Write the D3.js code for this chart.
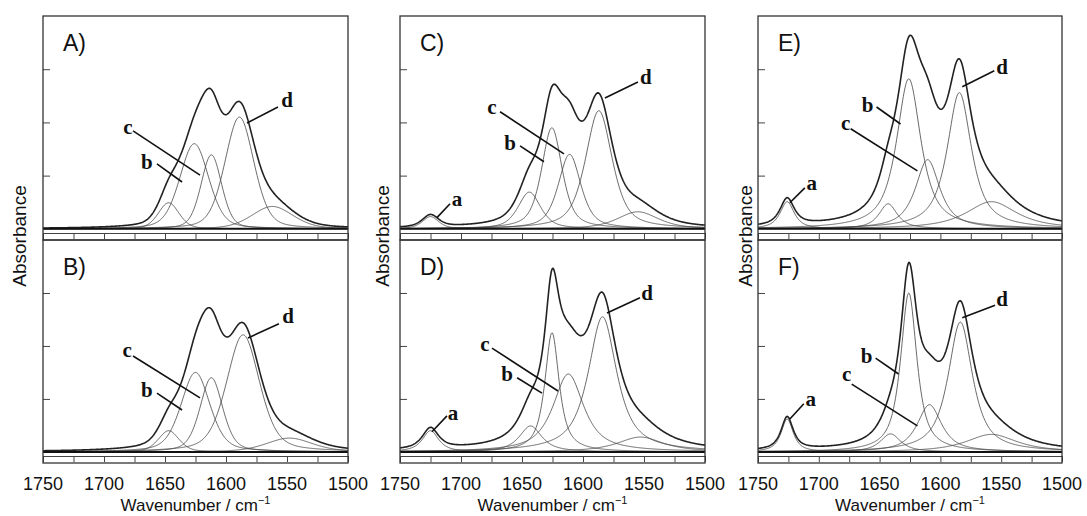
<!DOCTYPE html>
<html>
<head>
<meta charset="utf-8">
<script src="https://cdn.jsdelivr.net/npm/d3@7/dist/d3.min.js"></script>
<style>
  body { margin: 0; background: #fff; }
  svg { display: block; }
</style>
</head>
<body>
<svg id="chart" width="1087" height="516"></svg>
<script>
// panel names, in reading order (columns of two)
const panelNames = ["A", "B", "C", "D", "E", "F"];

// fitted bands per panel, order: a, shoulder, b, c, d, low tail
const bandCenters = [
  [1725, 1647, 1626, 1612, 1589, 1562],
  [1725, 1647, 1625, 1612, 1586, 1548],
  [1725, 1644, 1625.5, 1611, 1587, 1555],
  [1725, 1643, 1625.4, 1612, 1584, 1553],
  [1726, 1643, 1626, 1610.5, 1584.4, 1558],
  [1726, 1641, 1626, 1609, 1583.6, 1558]
];
const bandHeights = [
  [0, 0.49, 1.60, 1.39, 2.10, 0.42],
  [0, 0.40, 1.50, 1.40, 2.21, 0.26],
  [0.23, 0.69, 1.90, 1.40, 2.22, 0.32],
  [0.40, 0.49, 2.25, 1.47, 2.55, 0.28],
  [0.51, 0.47, 2.82, 1.30, 2.56, 0.51],
  [0.62, 0.34, 3.00, 0.89, 2.45, 0.33]
];
const bandWidths = [
  [16, 20, 28, 20, 28, 40],
  [16, 20, 28, 22, 32, 45],
  [16, 22, 20, 22, 26, 40],
  [16, 22, 14, 30, 28, 45],
  [14, 18, 24, 24, 24, 50],
  [12, 20, 16, 24, 24, 50]
];
// lorentzian share of the pseudo-voigt shape
const lorentzShare = [0.3, 0.4, 0.6, 0.85, 0.85, 0.85];

// band labels: letter, text (wn, abs), leader from (wn, abs) to (wn, abs)
const bandLabels = [
  [["b", 1664.8, 1.26, 1656.6, 1.22, 1636, 0.88],
   ["c", 1680.3, 1.92, 1676.2, 1.84, 1621.3, 1.01],
   ["d", 1550, 2.42, 1557.4, 2.29, 1582.8, 1.99]],
  [["b", 1664.8, 1.17, 1656.6, 1.11, 1636, 0.79],
   ["c", 1681.1, 1.92, 1676.2, 1.81, 1621.3, 1.02],
   ["d", 1549.2, 2.57, 1556.6, 2.42, 1582, 2.15]],
  [["a", 1703.3, 0.56, 1709, 0.47, 1719.7, 0.21],
   ["b", 1659.8, 1.62, 1651.6, 1.56, 1632, 1.26],
   ["c", 1674.6, 2.29, 1668, 2.2, 1615.6, 1.41],
   ["d", 1548.4, 2.85, 1555, 2.76, 1582, 2.46]],
  [["a", 1706.6, 0.74, 1711.5, 0.68, 1723.8, 0.38],
   ["b", 1662.3, 1.47, 1654, 1.40, 1633.6, 1.11],
   ["c", 1680.3, 2.04, 1674.6, 1.96, 1620.5, 1.15],
   ["d", 1547.5, 3.0, 1553.3, 2.91, 1580.3, 2.62]],
  [["a", 1705.7, 0.86, 1711.5, 0.77, 1723.8, 0.49],
   ["b", 1659.8, 2.33, 1652.5, 2.29, 1632.8, 1.97],
   ["c", 1677.9, 1.99, 1673.8, 1.88, 1618.9, 1.09],
   ["d", 1549.2, 3.04, 1555.7, 2.97, 1582, 2.67]],
  [["a", 1706.6, 1.0, 1712.3, 0.91, 1723.8, 0.62],
   ["b", 1660.7, 1.81, 1653.3, 1.77, 1634.4, 1.47],
   ["c", 1677, 1.47, 1672.95, 1.28, 1618.9, 0.49],
   ["d", 1549.2, 2.89, 1555, 2.77, 1582, 2.53]]
];

// axis settings
const wnDomain = [1750, 1500];
const absDomain = [-0.21, 4];
const xTicks = d3.range(1500, 1751, 25);
const xLabels = [1750, 1700, 1650, 1600, 1550, 1500];
const yTicks = [1, 2, 3];

// layout
const cols = [
  { x0: 43, x1: 348, ylab: 19 },
  { x0: 400, x1: 705, ylab: 382 },
  { x0: 758, x1: 1062, ylab: 745 }
];
const rows = [{ top: 16, bottom: 240 }, { top: 240, bottom: 463 }];

const svg = d3.select("#chart");
const sans = "'Liberation Sans', Arial, sans-serif";
const serif = "'Liberation Serif', 'Times New Roman', serif";

function voigt(w, c, h, fw, eta) {
  const u = (w - c) / fw;
  const l = 1 / (1 + 4 * u * u);
  const g = Math.exp(-4 * Math.LN2 * u * u);
  return h * (eta * l + (1 - eta) * g);
}

const grid = d3.range(1500, 1750.01, 0.5);

panelNames.forEach((name, p) => {
  const col = cols[Math.floor(p / 2)];
  const row = rows[p % 2];

  const x = d3.scaleLinear().domain(wnDomain).range([col.x0, col.x1]);
  const y = d3.scaleLinear().domain(absDomain).range([row.bottom, row.top]);

  const g = svg.append("g");
  const clipId = "clip" + name;
  g.append("clipPath").attr("id", clipId)
    .append("rect")
    .attr("x", col.x0).attr("y", row.top)
    .attr("width", col.x1 - col.x0).attr("height", row.bottom - row.top);

  const plot = g.append("g").attr("clip-path", "url(#" + clipId + ")");

  const line = d3.line()
    .x(d => x(d[0]))
    .y(d => y(d[1]));

  // component bands
  const comps = bandCenters[p].map((c, i) => ({
    c: c, h: bandHeights[p][i], fw: bandWidths[p][i]
  })).filter(b => b.h > 0);

  comps.forEach(b => {
    const pts = grid.map(w => [w, voigt(w, b.c, b.h, b.fw, lorentzShare[p])]);
    plot.append("path")
      .attr("d", line(pts))
      .attr("fill", "none")
      .attr("stroke", "#444")
      .attr("stroke-width", 0.8);
  });

  // summed envelope
  const env = grid.map(w => [w, d3.sum(comps, b => voigt(w, b.c, b.h, b.fw, lorentzShare[p]))]);
  plot.append("path")
    .attr("d", line(env))
    .attr("fill", "none")
    .attr("stroke", "#222")
    .attr("stroke-width", 1.6);

  // baseline
  plot.append("line")
    .attr("x1", col.x0).attr("x2", col.x1)
    .attr("y1", y(0)).attr("y2", y(0))
    .attr("stroke", "#111").attr("stroke-width", 2);

  // x axis strip with downward ticks
  const xAxis = d3.axisBottom(x).tickValues(xTicks).tickSize(6).tickSizeOuter(0).tickFormat("");
  const xa = g.append("g")
    .attr("transform", "translate(0," + (row.bottom - 7) + ")")
    .call(xAxis);
  xa.select(".domain").attr("stroke", "#444").attr("stroke-width", 1);
  xa.selectAll(".tick line").attr("stroke", "#444").attr("stroke-width", 1);

  // y ticks, inward from left frame
  const yAxis = d3.axisRight(y).tickValues(yTicks).tickSize(7).tickFormat("");
  const ya = g.append("g")
    .attr("transform", "translate(" + col.x0 + ",0)")
    .call(yAxis);
  ya.select(".domain").remove();
  ya.selectAll(".tick line").attr("stroke", "#444").attr("stroke-width", 1);

  // frame
  g.append("rect")
    .attr("x", col.x0).attr("y", row.top)
    .attr("width", col.x1 - col.x0).attr("height", row.bottom - row.top)
    .attr("fill", "none")
    .attr("stroke", "#333")
    .attr("stroke-width", 1.3);

  // panel letter
  g.append("text")
    .attr("x", col.x0 + 20)
    .attr("y", row.top + 35)
    .attr("font-family", sans)
    .attr("font-size", 23)
    .attr("fill", "#111")
    .text(name + ")");

  // band labels
  bandLabels[p].forEach(l => {
    g.append("line")
      .attr("x1", x(l[3])).attr("y1", y(l[4]))
      .attr("x2", x(l[5])).attr("y2", y(l[6]))
      .attr("stroke", "#111").attr("stroke-width", 1.6);
    g.append("text")
      .attr("x", x(l[1])).attr("y", y(l[2]))
      .attr("text-anchor", "middle")
      .attr("dominant-baseline", "central")
      .attr("font-family", serif)
      .attr("font-weight", "bold")
      .attr("font-size", 21)
      .attr("fill", "#111")
      .text(l[0]);
  });

  // tick labels and axis title under the lower panel
  if (p % 2 === 1) {
    g.selectAll(".xlab").data(xLabels).join("text")
      .attr("x", d => x(d))
      .attr("y", row.bottom + 27)
      .attr("text-anchor", "middle")
      .attr("font-family", sans)
      .attr("font-size", 18)
      .attr("fill", "#111")
      .text(d => d);

    const t = g.append("text")
      .attr("x", (col.x0 + col.x1) / 2)
      .attr("y", row.bottom + 48)
      .attr("text-anchor", "middle")
      .attr("font-family", sans)
      .attr("font-size", 17)
      .attr("fill", "#111");
    t.append("tspan").text("Wavenumber / cm");
    t.append("tspan").attr("font-size", 11).attr("dy", -7).text("\u22121");
  }
});

// y axis titles
cols.forEach(col => {
  svg.append("text")
    .attr("transform", "translate(" + col.ylab + "," + 236 + ") rotate(-90)")
    .attr("text-anchor", "middle")
    .attr("dominant-baseline", "central")
    .attr("font-family", sans)
    .attr("font-size", 19)
    .attr("fill", "#111")
    .text("Absorbance");
});
</script>
</body>
</html>
